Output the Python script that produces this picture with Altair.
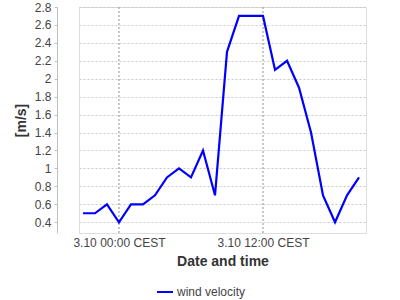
import altair as alt
import pandas as pd

# hour offsets relative to 3.10 00:00 CEST
hours = [-3, -2, -1, 0, 1, 2, 3, 4, 5, 6, 7, 8, 9, 10, 11, 12, 13, 14, 15, 16, 17, 18, 19, 20]
wind = [0.5, 0.5, 0.6, 0.4, 0.6, 0.6, 0.7, 0.9, 1.0, 0.9, 1.2, 0.7,
        2.3, 2.7, 2.7, 2.7, 2.1, 2.2, 1.9, 1.4, 0.7, 0.4, 0.7, 0.9]
series = ["wind velocity"] * len(hours)

x_ticks = [0, 12]
x_labels = ["3.10 00:00 CEST", "3.10 12:00 CEST"]
y_ticks = [0.4, 0.6, 0.8, 1.0, 1.2, 1.4, 1.6, 1.8, 2.0, 2.2, 2.4, 2.6, 2.8]

df = pd.DataFrame({"hour": hours, "wind": wind, "series": series})

font = "Liberation Sans"
label_expr = " : ".join(
    f"datum.value == {v} ? '{l}'" for v, l in zip(x_ticks, x_labels)
) + " : ''"

base = alt.Chart(df)

vgrid = alt.Chart(pd.DataFrame({"t": x_ticks})).mark_rule(
    color="#909090", strokeDash=[2, 2], strokeWidth=1
).encode(x=alt.X("t:Q", scale=alt.Scale(domain=[-3.33, 20.58], nice=False, zero=False)))

line = base.mark_line(strokeWidth=2.2).encode(
    x=alt.X(
        "hour:Q",
        scale=alt.Scale(domain=[-3.33, 20.58], nice=False, zero=False),
        axis=alt.Axis(
            title="Date and time",
            values=x_ticks,
            labelExpr=label_expr,
            grid=False,
            ticks=False,
            domain=False,
            labelFont=font,
            labelFontSize=12,
            labelColor="#444444",
            labelPadding=4,
            titleFont=font,
            titleFontSize=14,
            titleFontWeight="bold",
            titleColor="#333333",
            titlePadding=6,
        ),
    ),
    y=alt.Y(
        "wind:Q",
        scale=alt.Scale(domain=[0.28, 2.8], nice=False, zero=False),
        axis=alt.Axis(
            title="[m/s]",
            values=y_ticks,
            format="~g",
            offset=22,
            grid=True,
            gridColor="#c8c8c8",
            gridDash=[2, 2],
            domainColor="#c0c0c0",
            tickColor="#c0c0c0",
            tickSize=3,
            labelFont=font,
            labelFontSize=12,
            labelColor="#444444",
            labelPadding=3,
            titleFont=font,
            titleFontSize=14,
            titleFontWeight="bold",
            titleColor="#333333",
            titlePadding=6,
        ),
    ),
    color=alt.Color(
        "series:N",
        scale=alt.Scale(range=["#0000ff"]),
        legend=alt.Legend(
            title=None,
            orient="none",
            legendX=77,
            legendY=276,
            symbolType="stroke",
            symbolSize=256,
            symbolStrokeWidth=2,
            labelFont=font,
            labelFontSize=12,
            labelColor="#444444",
            labelOffset=3,
        ),
    ),
)

chart = (
    alt.layer(vgrid, line)
    .properties(
        width=287,
        height=226,
        autosize=alt.AutoSizeParams(type="none"),
        padding={"left": 79, "top": 7, "right": 34, "bottom": 67},
    )
    .configure_view(stroke="#808080", strokeWidth=1)
    .configure(background="white")
)

chart.save("out.html", embed_options={"renderer": "svg", "actions": False})
